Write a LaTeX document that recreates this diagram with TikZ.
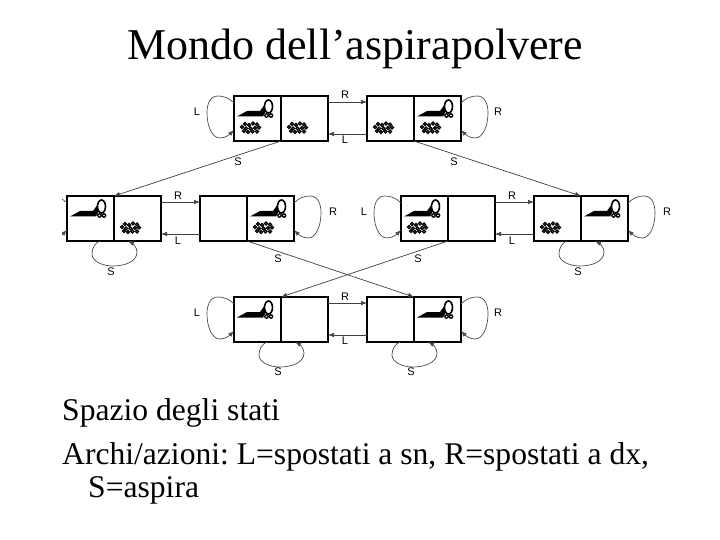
\documentclass[tikz,border=0pt]{standalone}
\usepackage{fontspec}
\setmainfont{Liberation Serif}
\newfontfamily\lblfont{Liberation Sans}
\usetikzlibrary{calc,arrows.meta}
\tikzset{
  cell/.style={draw=black,line width=1.2pt,fill=white,minimum width=47pt,minimum height=45pt,inner sep=0pt,outer sep=0pt,anchor=north west},
  lab/.style={font=\lblfont\fontsize{11}{11}\selectfont,text=black,inner sep=0pt},
  conn/.style={draw=black!75,line width=0.7pt,-{Latex[length=6pt,width=4.5pt]}},
  loopl/.style={draw=black!70,line width=0.7pt,-{Latex[length=6pt,width=4.5pt]}},
  ttl/.style={font=\fontsize{44}{44}\selectfont,inner sep=0pt,anchor=base west},
  bodyt/.style={font=\frenchspacing\fontsize{31.6}{31.6}\selectfont,inner sep=0pt,anchor=base west}
}
% vacuum cleaner, at upper left corner of a cell
\newcommand{\vacuum}[1]{%
  \begin{scope}[shift={(#1)}]
    \fill[black] (3,20.5) -- (13,15) -- (26,15) -- (31,8) -- (33,9) -- (31,17) -- (29,20.5) -- cycle;
    \draw[black,line width=1.6pt,fill=white] (34.5,10.5) ellipse (4 and 6.5);
    \fill[black] (32.5,19.5) circle (2.4) (37,19.5) circle (2.4);
    \fill[white] (32.5,19.5) circle (0.8) (37,19.5) circle (0.8);
  \end{scope}}
% dirt, at upper left corner of a cell
\newcommand{\dirt}[1]{%
  \begin{scope}[shift={(#1)}]
    \foreach \p/\q in {8/31,11/28,15/29,19/27.5,23/28.5,25/31.5,21/32,16.5/32.5,12/32.5,10/35,14/36,18.5/35.5,23/35.5}
      \draw[black,line width=1.1pt,fill=white] (\p,\q) circle (1.5);
  \end{scope}}
\newcommand{\looplft}[1]{\begin{scope}[shift={(#1.north west)}]\draw[loopl] (0,7) .. controls (-5,2) and (-10,0) .. (-16,0) .. controls (-24,0) and (-27,8) .. (-27,17) .. controls (-27,30) and (-22,42) .. (-14,42) .. controls (-8,42) and (-4,38) .. (0,34);\end{scope}}
\newcommand{\looprgt}[1]{\begin{scope}[shift={(#1.north east)},xscale=-1]\draw[loopl] (0,7) .. controls (-5,2) and (-10,0) .. (-16,0) .. controls (-24,0) and (-27,8) .. (-27,17) .. controls (-27,30) and (-22,42) .. (-14,42) .. controls (-8,42) and (-4,38) .. (0,34);\end{scope}}
\newcommand{\loopsuck}[1]{\begin{scope}[shift={(#1.south west)}]\draw[loopl] (-14,0) .. controls (-19,2) and (-22,7) .. (-22,13) .. controls (-22,20) and (-12,25) .. (-1,25) .. controls (10,25) and (23,21) .. (23,11) .. controls (23,6) and (18,2) .. (14,0);\end{scope}}
\begin{document}
\begin{tikzpicture}[x=1pt,y=-1pt]
\useasboundingbox (0,0) rectangle (720,540);
\fill[white] (0,0) rectangle (720,540);
\node[ttl] (title) at (127,60) {Mondo dell’aspirapolvere};
% top row
\node[cell] (a1) at (234,96) {}; \node[cell] (a2) at (281,96) {};
\node[cell] (b1) at (367,96) {}; \node[cell] (b2) at (414,96) {};
% middle row
\node[cell] (c1) at (67,196) {}; \node[cell] (c2) at (114,196) {};
\node[cell] (d1) at (200,196) {}; \node[cell] (d2) at (247,196) {};
\node[cell] (e1) at (401,196) {}; \node[cell] (e2) at (448,196) {};
\node[cell] (f1) at (534,196) {}; \node[cell] (f2) at (581,196) {};
% bottom row
\node[cell] (g1) at (234,297) {}; \node[cell] (g2) at (281,297) {};
\node[cell] (h1) at (367,297) {}; \node[cell] (h2) at (414,297) {};
% contents
\vacuum{a1.north west} \dirt{a1.north west} \dirt{a2.north west}
\dirt{b1.north west} \vacuum{b2.north west} \dirt{b2.north west}
\vacuum{c1.north west} \dirt{c2.north west}
\vacuum{d2.north west} \dirt{d2.north west}
\vacuum{e1.north west} \dirt{e1.north west}
\dirt{f1.north west} \vacuum{f2.north west}
\vacuum{g1.north west} \vacuum{h2.north west}
% horizontal arrows
\foreach \l/\r in {a2/b1,c2/d1,e2/f1,g2/h1}{
  \draw[conn] ($(\l.north east)+(0,6)$) -- ($(\r.north west)+(0,6)$);
  \draw[conn] ($(\r.south west)+(0,-7)$) -- ($(\l.south east)+(0,-7)$);
}
% side loops
\looplft{a1} \looprgt{b2} \looprgt{d2} \looplft{e1} \looprgt{f2} \looplft{g1} \looprgt{h2}
\begin{scope}
  \clip (62,180) rectangle (100,260);
  \looplft{c1}
\end{scope}
% suck loops
\loopsuck{c2} \loopsuck{f2} \loopsuck{g2} \loopsuck{h2}
% diagonals
\draw[conn] (a1.south east) -- (c1.north east);
\draw[conn] (b1.south east) -- (f1.north east);
\draw[conn] (d1.south east) -- (h1.north east);
\draw[conn] (e1.south east) -- (g1.north east);
% labels
\foreach \n/\x/\y/\t in {l1/197/112/L,l2/498/112/R,l3/345/95/R,l4/345/140/L,l5/238/162/S,l6/454/162/S,
  l7/178/196/R,l8/178/241/L,l9/333/212/R,l10/364/212/L,l11/512/196/R,l12/512/241/L,l13/667/212/R,
  l14/278/259/S,l15/418/259/S,l16/111/272/S,l17/578/272/S,
  l18/197/313/L,l19/498/313/R,l20/345/297/R,l21/345/341/L,l22/278/372/S,l23/411/372/S}
  \node[lab] (\n) at (\x,\y) {\t};
% text
\node[bodyt] (t1) at (62,420) {Spazio degli stati};
\node[bodyt] (t2) at (62,464) {Archi/azioni: L=spostati a sn, R=spostati a dx,};
\node[bodyt] (t3) at (88,497) {S=aspira};
\end{tikzpicture}
\end{document}
